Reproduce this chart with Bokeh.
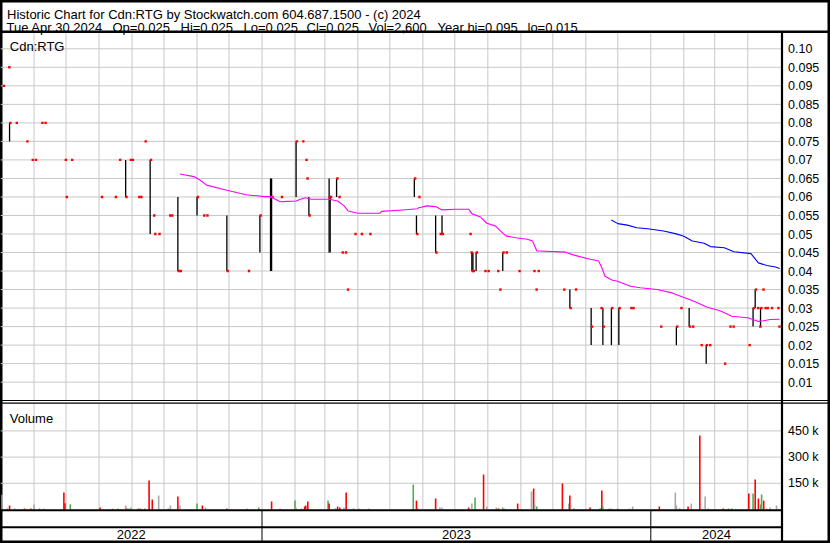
import numpy as np
import pandas as pd
from bokeh.plotting import figure
from bokeh.models import Range1d
from bokeh.embed import file_html
from bokeh.resources import INLINE
from bokeh.core.properties import value

# ---------------- data ----------------
BASE_DATE = "2022-05-02"          # day 0 of the day offsets below
TITLE = "Historic Chart for Cdn:RTG by Stockwatch.com 604.687.1500 - (c) 2024"
INFO = ["Tue Apr 30 2024", "Op=0.025", "Hi=0.025", "Lo=0.025", "Cl=0.025",
        "Vol=2,600", "Year hi=0.095", "lo=0.015"]
SYMBOL = "Cdn:RTG"
VOLUME_LABEL = "Volume"

# daily bars: day offset, high, low, close
bar_day = [1, 6, 7, 13, 23, 28, 31, 37, 40, 59, 60, 65, 93, 106, 110, 116, 120, 122, 128, 130,
           134, 139, 142, 143, 147, 157, 159, 165, 167, 183, 189, 192, 211, 231, 242, 252, 253,
           262, 276, 282, 285, 286, 288, 307, 308, 314, 316, 319, 322, 324, 331, 337, 345, 387,
           389, 391, 407, 411, 413, 439, 440, 441, 442, 445, 453, 456, 465, 467, 470, 473, 485,
           499, 501, 503, 527, 533, 538, 553, 562, 564, 572, 579, 590, 592, 618, 633, 637, 645,
           648, 656, 661, 664, 678, 683, 686, 701, 705, 707, 709, 711, 712, 714, 716, 718, 722,
           728, 729]
bar_high = [0.09, 0.095, 0.08, 0.08, 0.075, 0.07, 0.07, 0.08, 0.08, 0.07, 0.06, 0.07, 0.06, 0.06,
            0.07, 0.07, 0.07, 0.07, 0.06, 0.06, 0.075, 0.07, 0.055, 0.05, 0.05, 0.055, 0.055, 0.06,
            0.04, 0.06, 0.055, 0.055, 0.055, 0.04, 0.055, 0.065, 0.065, 0.06, 0.075, 0.075, 0.07,
            0.065, 0.06, 0.065, 0.06, 0.065, 0.06, 0.045, 0.045, 0.035, 0.05, 0.05, 0.05, 0.065,
            0.055, 0.06, 0.055, 0.05, 0.055, 0.05, 0.045, 0.045, 0.045, 0.045, 0.04, 0.04, 0.04,
            0.035, 0.045, 0.045, 0.04, 0.04, 0.035, 0.04, 0.035, 0.035, 0.035, 0.03, 0.03, 0.03,
            0.03, 0.03, 0.03, 0.03, 0.025, 0.025, 0.03, 0.03, 0.025, 0.02, 0.02, 0.02, 0.015,
            0.025, 0.025, 0.02, 0.03, 0.035, 0.03, 0.025, 0.03, 0.035, 0.03, 0.03, 0.03, 0.03,
            0.025]
bar_low = [0.09, 0.095, 0.075, 0.08, 0.075, 0.07, 0.07, 0.08, 0.08, 0.07, 0.06, 0.07, 0.06, 0.06,
           0.07, 0.06, 0.07, 0.07, 0.06, 0.06, 0.075, 0.05, 0.055, 0.05, 0.05, 0.055, 0.055, 0.04,
           0.04, 0.055, 0.055, 0.055, 0.04, 0.04, 0.045, 0.04, 0.04, 0.06, 0.06, 0.075, 0.07,
           0.065, 0.055, 0.045, 0.045, 0.06, 0.06, 0.045, 0.045, 0.035, 0.05, 0.05, 0.05, 0.06,
           0.05, 0.06, 0.045, 0.05, 0.05, 0.05, 0.045, 0.04, 0.04, 0.04, 0.04, 0.04, 0.04,
           0.035, 0.04, 0.045, 0.04, 0.04, 0.035, 0.04, 0.035, 0.03, 0.035, 0.02, 0.03, 0.02,
           0.02, 0.02, 0.03, 0.03, 0.025, 0.02, 0.03, 0.025, 0.025, 0.02, 0.015, 0.02, 0.015,
           0.025, 0.025, 0.02, 0.025, 0.03, 0.03, 0.025, 0.025, 0.035, 0.03, 0.03, 0.03, 0.03,
           0.025]
bar_close = [0.09, 0.095, 0.08, 0.08, 0.075, 0.07, 0.07, 0.08, 0.08, 0.07, 0.06, 0.07, 0.06, 0.06,
             0.07, 0.06, 0.07, 0.07, 0.06, 0.06, 0.075, 0.07, 0.055, 0.05, 0.05, 0.055, 0.055, 0.04,
             0.04, 0.06, 0.055, 0.055, 0.04, 0.04, 0.055, 0.06, 0.06, 0.06, 0.075, 0.075, 0.07,
             0.065, 0.055, 0.06, 0.06, 0.065, 0.06, 0.045, 0.045, 0.035, 0.05, 0.05, 0.05, 0.065,
             0.05, 0.06, 0.045, 0.05, 0.05, 0.05, 0.045, 0.04, 0.04, 0.045, 0.04, 0.04, 0.04,
             0.035, 0.045, 0.045, 0.04, 0.04, 0.035, 0.04, 0.035, 0.03, 0.035, 0.025, 0.03, 0.025,
             0.03, 0.03, 0.03, 0.03, 0.025, 0.025, 0.03, 0.025, 0.025, 0.02, 0.02, 0.02, 0.015,
             0.025, 0.025, 0.02, 0.03, 0.035, 0.03, 0.025, 0.03, 0.035, 0.03, 0.03, 0.03, 0.03,
             0.025]

# moving averages (magenta = shorter, blue = longer)
ma1_day = [167, 180, 186, 192, 211, 229, 246, 252, 261, 268, 276, 280, 285, 290, 307, 315, 321,
           325, 334, 355, 356, 376, 390, 391, 399, 407, 413, 426, 438, 441, 449, 455, 463, 468,
           473, 482, 493, 498, 502, 505, 529, 537, 549, 560, 563, 566, 573, 577, 590, 599, 615,
           629, 637, 649, 662, 674, 685, 700, 710, 715, 721, 730]
ma1_val = [0.0662, 0.0655, 0.0645, 0.0632, 0.0618, 0.0606, 0.0601, 0.0601, 0.0587, 0.0588, 0.0589,
           0.0594, 0.0598, 0.0594, 0.0594, 0.0589, 0.0576, 0.0562, 0.0556, 0.0556, 0.0561, 0.0565,
           0.0568, 0.0571, 0.0576, 0.0574, 0.0565, 0.0567, 0.0567, 0.0555, 0.0546, 0.0529, 0.0522,
           0.0508, 0.0495, 0.0490, 0.0486, 0.0481, 0.0454, 0.0454, 0.0451, 0.0443, 0.0434, 0.0427,
           0.0409, 0.0386, 0.0375, 0.0373, 0.0359, 0.0355, 0.0350, 0.0341, 0.0332, 0.0319, 0.0302,
           0.0293, 0.0278, 0.0274, 0.0264, 0.0266, 0.0269, 0.0270]
ma2_day = [572, 578, 587, 596, 606, 621, 632, 640, 648, 659, 665, 678, 687, 703, 710, 718, 726, 730]
ma2_val = [0.0538, 0.0528, 0.0524, 0.0517, 0.0514, 0.0508, 0.0501, 0.0494, 0.0481, 0.0475, 0.0466,
           0.0463, 0.0452, 0.0447, 0.0422, 0.0415, 0.0411, 0.0407]

# daily volume: day offset, shares, direction (d = down, u = up, n = unchanged)
vol_day = [0, 5, 7, 12, 21, 27, 30, 35, 39, 58, 59, 64, 92, 104, 109, 116, 117, 119, 121, 128, 130,
           134, 138, 141, 147, 156, 158, 165, 167, 183, 188, 191, 211, 230, 241, 253, 261, 275, 276,
           281, 284, 285, 287, 306, 307, 313, 315, 317, 321, 323, 330, 335, 344, 386, 389, 390, 407,
           411, 413, 438, 441, 444, 452, 455, 464, 466, 470, 472, 484, 497, 499, 500, 502, 526, 532,
           533, 537, 552, 561, 562, 563, 564, 570, 572, 578, 589, 592, 617, 632, 633, 636, 644, 647,
           655, 660, 663, 677, 682, 685, 701, 705, 707, 710, 712, 713, 715, 718, 721, 727, 729]
vol_value = [84000, 6000, 23000, 6000, 6000, 6000, 29000, 6000, 6000, 97000, 36000, 30000, 11000,
             6000, 6000, 23000, 6000, 6000, 11000, 6000, 6000, 6000, 166000, 57000, 80000, 6000,
             23000, 74000, 23000, 34000, 23000, 11000, 6000, 6000, 11000, 46000, 6000, 51000, 11000,
             6000, 17000, 23000, 46000, 51000, 34000, 6000, 17000, 11000, 11000, 97000, 6000, 6000,
             6000, 143000, 51000, 6000, 63000, 11000, 11000, 11000, 34000, 69000, 200000, 17000,
             11000, 6000, 11000, 6000, 34000, 103000, 120000, 29000, 17000, 149000, 34000, 80000,
             6000, 11000, 6000, 6000, 109000, 17000, 6000, 6000, 6000, 6000, 17000, 17000, 97000,
             23000, 6000, 17000, 34000, 424000, 74000, 6000, 6000, 6000, 6000, 92000, 92000, 172000,
             63000, 29000, 86000, 51000, 6000, 11000, 23000, 2600]
vol_dir = ["n", "u", "d", "n", "d", "d", "n", "u", "n", "d", "d", "u", "d", "n", "u", "n", "d", "u",
           "n", "d", "u", "u", "d", "d", "n", "u", "n", "d", "n", "u", "d", "n", "d", "n", "u", "d",
           "n", "u", "n", "n", "d", "d", "d", "u", "d", "u", "d", "d", "n", "d", "u", "n", "n", "u",
           "d", "u", "d", "n", "n", "d", "n", "u", "d", "n", "n", "d", "u", "n", "d", "n", "d", "n",
           "u", "d", "n", "d", "u", "d", "n", "u", "d", "u", "n", "n", "n", "n", "n", "d", "n", "n",
           "u", "d", "n", "d", "n", "n", "d", "u", "u", "d", "u", "d", "d", "u", "u", "d", "n", "n",
           "n", "d"]

price_ticks = [0.01, 0.015, 0.02, 0.025, 0.03, 0.035, 0.04, 0.045, 0.05, 0.055, 0.06, 0.065,
               0.07, 0.075, 0.08, 0.085, 0.09, 0.095, 0.10]
price_tick_labels = ["0.01", "0.015", "0.02", "0.025", "0.03", "0.035", "0.04", "0.045", "0.05",
                     "0.055", "0.06", "0.065", "0.07", "0.075", "0.08", "0.085", "0.09", "0.095",
                     "0.10"]
vol_ticks = [150000, 300000, 450000]
vol_tick_labels = ["150 k", "300 k", "450 k"]
year_labels = ["2022", "2023", "2024"]
year_starts = ["2023-01-01", "2024-01-01"]

# ---------------- geometry (reference pixel frame 830 x 543) ----------------
W, H = 830, 543
DAY = 86400000.0
FONT = value("Liberation Sans")
FS_HEAD = "13px"
FS = "12.5px"
GRID = "#c8c8c8"

def ms(ts):
    return pd.Timestamp(ts).value / 1e6

BASE_MS = ms(BASE_DATE)
REF_X0, REF_PX_PER_DAY = 1.6, 1.0652

def xpx(px):
    return BASE_MS + (px - REF_X0) / REF_PX_PER_DAY * DAY

def price_at(py):
    return 0.10 - (py - 48.3) / 3704.0

def vol_at(py):
    return (509.0 - py) * 5725.0

X_LEFT, X_AXIS, X_RIGHT = xpx(0), xpx(781.5), xpx(830)

p = figure(width=W, height=H, output_backend="svg", toolbar_location=None,
           x_axis_location=None, y_axis_location=None, title=None,
           x_range=Range1d(X_LEFT, X_RIGHT), y_range=Range1d(price_at(543), price_at(0)),
           min_border=0, background_fill_color="white", border_fill_color="white",
           outline_line_color="black", outline_line_width=4)
p.extra_y_ranges = {"vol": Range1d(vol_at(543), vol_at(0)), "px": Range1d(543, 0)}
p.xgrid.visible = False
p.ygrid.visible = False

# month grid lines
months = pd.date_range("2022-06-01", "2024-04-01", freq="MS")
mx = [ms(m) for m in months]
p.segment(x0=mx, y0=[32] * len(mx), x1=mx, y1=[399.5] * len(mx), y_range_name="px",
          line_color=GRID, line_width=1)
p.segment(x0=mx, y0=[403] * len(mx), x1=mx, y1=[509] * len(mx), y_range_name="px",
          line_color=GRID, line_width=1)
# horizontal grid lines
p.segment(x0=[X_LEFT] * len(price_ticks), y0=price_ticks, x1=[X_AXIS] * len(price_ticks),
          y1=price_ticks, line_color=GRID, line_width=1)
p.segment(x0=[X_LEFT] * len(vol_ticks), y0=vol_ticks, x1=[X_AXIS] * len(vol_ticks),
          y1=vol_ticks, y_range_name="vol", line_color=GRID, line_width=1)

# price bars
bx = BASE_MS + np.array(bar_day) * DAY
hi = np.array(bar_high)
lo = np.array(bar_low)
rng = hi > lo
p.segment(x0=bx[rng], y0=lo[rng], x1=bx[rng], y1=hi[rng], line_color="black", line_width=1.3)
p.scatter(x=bx + 0.8 * DAY, y=bar_close, marker="square", size=2.4, fill_color="#ff0000",
          line_color=None)

# moving averages
p.line(x=BASE_MS + np.array(ma1_day) * DAY, y=ma1_val, line_color="#ff00ff", line_width=1.1)
p.line(x=BASE_MS + np.array(ma2_day) * DAY, y=ma2_val, line_color="#0000ff", line_width=1.1)

# volume bars
vcol = {"d": "#ff0000", "u": "#4caf50", "n": "#a9a9a9"}
p.vbar(x=BASE_MS + np.array(vol_day) * DAY, top=vol_value, bottom=0, width=1.5 * DAY,
       fill_color=[vcol[d] for d in vol_dir], line_color=None, y_range_name="vol")

# frame lines
p.segment(x0=[X_LEFT], y0=[31.2], x1=[X_RIGHT], y1=[31.2], y_range_name="px",
          line_color="black", line_width=2.5)
p.segment(x0=[X_LEFT, X_LEFT], y0=[400.0, 402.6], x1=[X_RIGHT, X_RIGHT], y1=[400.0, 402.6],
          y_range_name="px", line_color="black", line_width=1.2)
p.segment(x0=[X_LEFT, X_LEFT], y0=[509.7, 526.7], x1=[X_AXIS, X_AXIS], y1=[509.7, 526.7],
          y_range_name="px", line_color="black", line_width=2)
p.segment(x0=[X_AXIS], y0=[31.5], x1=[X_AXIS], y1=[543], y_range_name="px",
          line_color="black", line_width=2.2)
ys = [ms(y) for y in year_starts]
p.segment(x0=ys, y0=[509.7] * len(ys), x1=ys, y1=[543] * len(ys), y_range_name="px",
          line_color="black", line_width=1)

# texts
p.text(x=[xpx(6.5)], y=[13.8], text=[TITLE], y_range_name="px", text_font=FONT,
       text_font_size=FS_HEAD, text_color="black", text_baseline="alphabetic")
info_px = [6, 112, 180, 243, 306, 368, 437, 527]
p.text(x=[xpx(v) for v in info_px], y=[27.2] * len(INFO), text=INFO, y_range_name="px",
       text_font=FONT, text_font_size=FS_HEAD, text_color="black", text_baseline="alphabetic")
p.text(x=[xpx(9.3), xpx(9.3)], y=[46.0, 418.0], text=[SYMBOL, VOLUME_LABEL], y_range_name="px",
       text_font=FONT, text_font_size=FS_HEAD, text_color="black", text_baseline="alphabetic")
lx = xpx(787.5)
p.text(x=[lx] * len(price_ticks), y=price_ticks, text=price_tick_labels, text_font=FONT,
       text_font_size=FS, text_color="black", text_baseline="middle")
p.text(x=[lx] * len(vol_ticks), y=vol_ticks, text=vol_tick_labels, y_range_name="vol",
       text_font=FONT, text_font_size=FS, text_color="black", text_baseline="middle")
bounds = [X_LEFT] + ys + [X_AXIS]
mids = [(bounds[i] + bounds[i + 1]) / 2 for i in range(len(year_labels))]
p.text(x=mids, y=[534.3] * len(mids), text=year_labels, y_range_name="px", text_font=FONT,
       text_font_size=FS_HEAD, text_color="black", text_baseline="middle", text_align="center")

open("out.html", "w").write(file_html(p, INLINE))
